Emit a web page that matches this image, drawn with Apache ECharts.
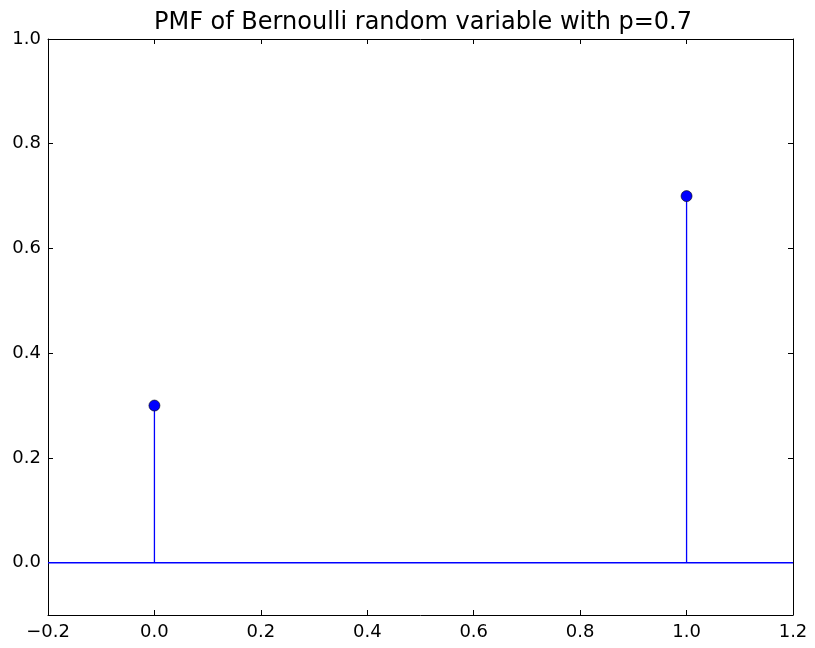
<!DOCTYPE html>
<html><head><meta charset="utf-8">
<script src="https://cdn.jsdelivr.net/npm/echarts@6/dist/echarts.min.js"></script>
<style>html,body{margin:0;padding:0;background:#fff}#c{width:815px;height:648px}</style>
</head><body><div id="c"></div>
<script>
const outcomes = [0, 1];
const probs = [0.3, 0.7];
const xTicks = [-0.2, 0.0, 0.2, 0.4, 0.6, 0.8, 1.0, 1.2];
const yTicks = [0.0, 0.2, 0.4, 0.6, 0.8, 1.0];
const xRange = [-0.2, 1.2];
const yRange = [-0.1, 1.0];
const titleText = 'PMF of Bernoulli random variable with p=0.7';

const FONT = 'DejaVu Sans';
const fmt = v => (Math.round(v * 10) / 10).toFixed(1).replace('-', '\u2212');
const blue = '#0000ff';

function xAxisCfg(pos, showLabel) {
  return {
    type: 'value', position: pos, min: xRange[0], max: xRange[1],
    axisLine: { show: true, onZero: false, lineStyle: { color: '#000', width: 1 } },
    axisTick: { show: true, inside: true, length: 5, customValues: xTicks, lineStyle: { color: '#000' } },
    axisLabel: { show: showLabel, customValues: xTicks, formatter: fmt, color: '#000', fontFamily: FONT, fontSize: 18, margin: 8 },
    splitLine: { show: false }
  };
}
function yAxisCfg(pos, showLabel) {
  return {
    type: 'value', position: pos, min: yRange[0], max: yRange[1],
    axisLine: { show: true, onZero: false, lineStyle: { color: '#000', width: 1 } },
    axisTick: { show: true, inside: true, length: 5, customValues: yTicks, lineStyle: { color: '#000' } },
    axisLabel: { show: showLabel, customValues: yTicks, formatter: fmt, color: '#000', fontFamily: FONT, fontSize: 18, margin: 7 },
    splitLine: { show: false }
  };
}

const stemData = outcomes.map((x, i) => [x, probs[i]]);

const chart = echarts.init(document.getElementById('c'), null, { renderer: 'canvas' });
chart.setOption({
  animation: false,
  backgroundColor: '#fff',
  title: {
    text: titleText, left: 418, textAlign: 'center', top: 6,
    textStyle: { fontFamily: FONT, fontSize: 24, fontWeight: 'normal', color: '#000' }
  },
  grid: { left: 48, right: 22, top: 39, bottom: 33, containLabel: false },
  xAxis: [xAxisCfg('bottom', true), xAxisCfg('top', false)],
  yAxis: [yAxisCfg('left', true), yAxisCfg('right', false)],
  series: [
    {
      type: 'line', xAxisIndex: 0, yAxisIndex: 0,
      data: [[xRange[0], 0], [xRange[1], 0]],
      symbol: 'none', lineStyle: { color: blue, width: 1.5 }, z: 2
    },
    {
      type: 'custom', xAxisIndex: 0, yAxisIndex: 0,
      data: stemData,
      renderItem: function (params, api) {
        const p0 = api.coord([api.value(0), 0]);
        const p1 = api.coord([api.value(0), api.value(1)]);
        return {
          type: 'line',
          shape: { x1: p0[0], y1: p0[1], x2: p1[0], y2: p1[1] },
          style: { stroke: blue, lineWidth: 1.3 }
        };
      },
      z: 3
    },
    {
      type: 'scatter', xAxisIndex: 0, yAxisIndex: 0,
      data: stemData, symbol: 'circle', symbolSize: 11,
      itemStyle: { color: blue, borderColor: '#000', borderWidth: 0.6, opacity: 1 },
      z: 4
    }
  ]
});
</script>
</body></html>
